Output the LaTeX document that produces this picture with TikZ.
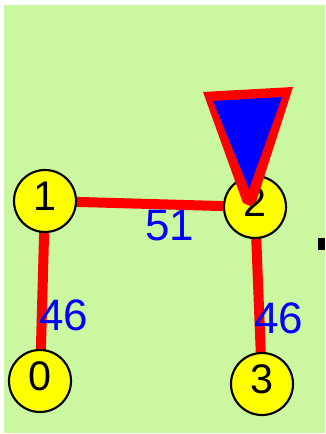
\documentclass[tikz,border=0pt]{standalone}
\usepackage{fontspec}
\setmainfont{Liberation Sans}
\definecolor{bggreen}{RGB}{202,247,160}
\definecolor{nodeyellow}{RGB}{255,255,0}
\definecolor{edgered}{RGB}{255,0,0}
\definecolor{labelblue}{RGB}{0,0,255}
\newcommand{\vlabel}[1]{\raisebox{7.5pt}{#1}}
\begin{document}
\begin{tikzpicture}[x=0.75pt,y=-0.75pt,
  vertex/.style={circle,draw=black,line width=1.6pt,fill=nodeyellow,minimum size=46.5pt,inner sep=0pt,font=\fontsize{31}{31}\selectfont},
  edge/.style={draw=edgered,line width=7.5pt},
  weight/.style={text=labelblue,inner sep=0pt,font=\fontsize{33}{33}\selectfont},
  markerout/.style={fill=edgered},
  markerin/.style={fill=labelblue}]
\useasboundingbox (0,0) rectangle (325,434);
\fill[bggreen] (4,5) rectangle (325,433);
% node positions
\coordinate (p1) at (45,201);
\coordinate (p2) at (255,207);
\coordinate (p0) at (40,381);
\coordinate (p3) at (262,384);
% edges
\draw[edge] (p1) -- (p2);
\draw[edge] (p1) -- (p0);
\draw[edge] (p2) -- (p3);
% vertices
\node[vertex] (n1) at (p1) {\vlabel{1}};
\node[vertex] (n2) at (p2) {\vlabel{2}};
\node[vertex] (n0) at (p0) {\vlabel{0}};
\node[vertex] (n3) at (p3) {\vlabel{3}};
% weights
\node[weight] (w12) at (170,226) {51};
\node[weight] (w10) at (64,315) {46};
\node[weight] (w23) at (279,318) {46};
% marker triangle (red outline, blue inside)
\fill[markerout] (203,92) -- (293,87) -- (256,202) -- (250,206) -- (243,203) -- cycle;
\fill[markerin] (213,101) -- (282,97) -- (249,189) -- cycle;
% small black square
\fill[black] (318,238) rectangle (325,250);
\end{tikzpicture}
\end{document}
